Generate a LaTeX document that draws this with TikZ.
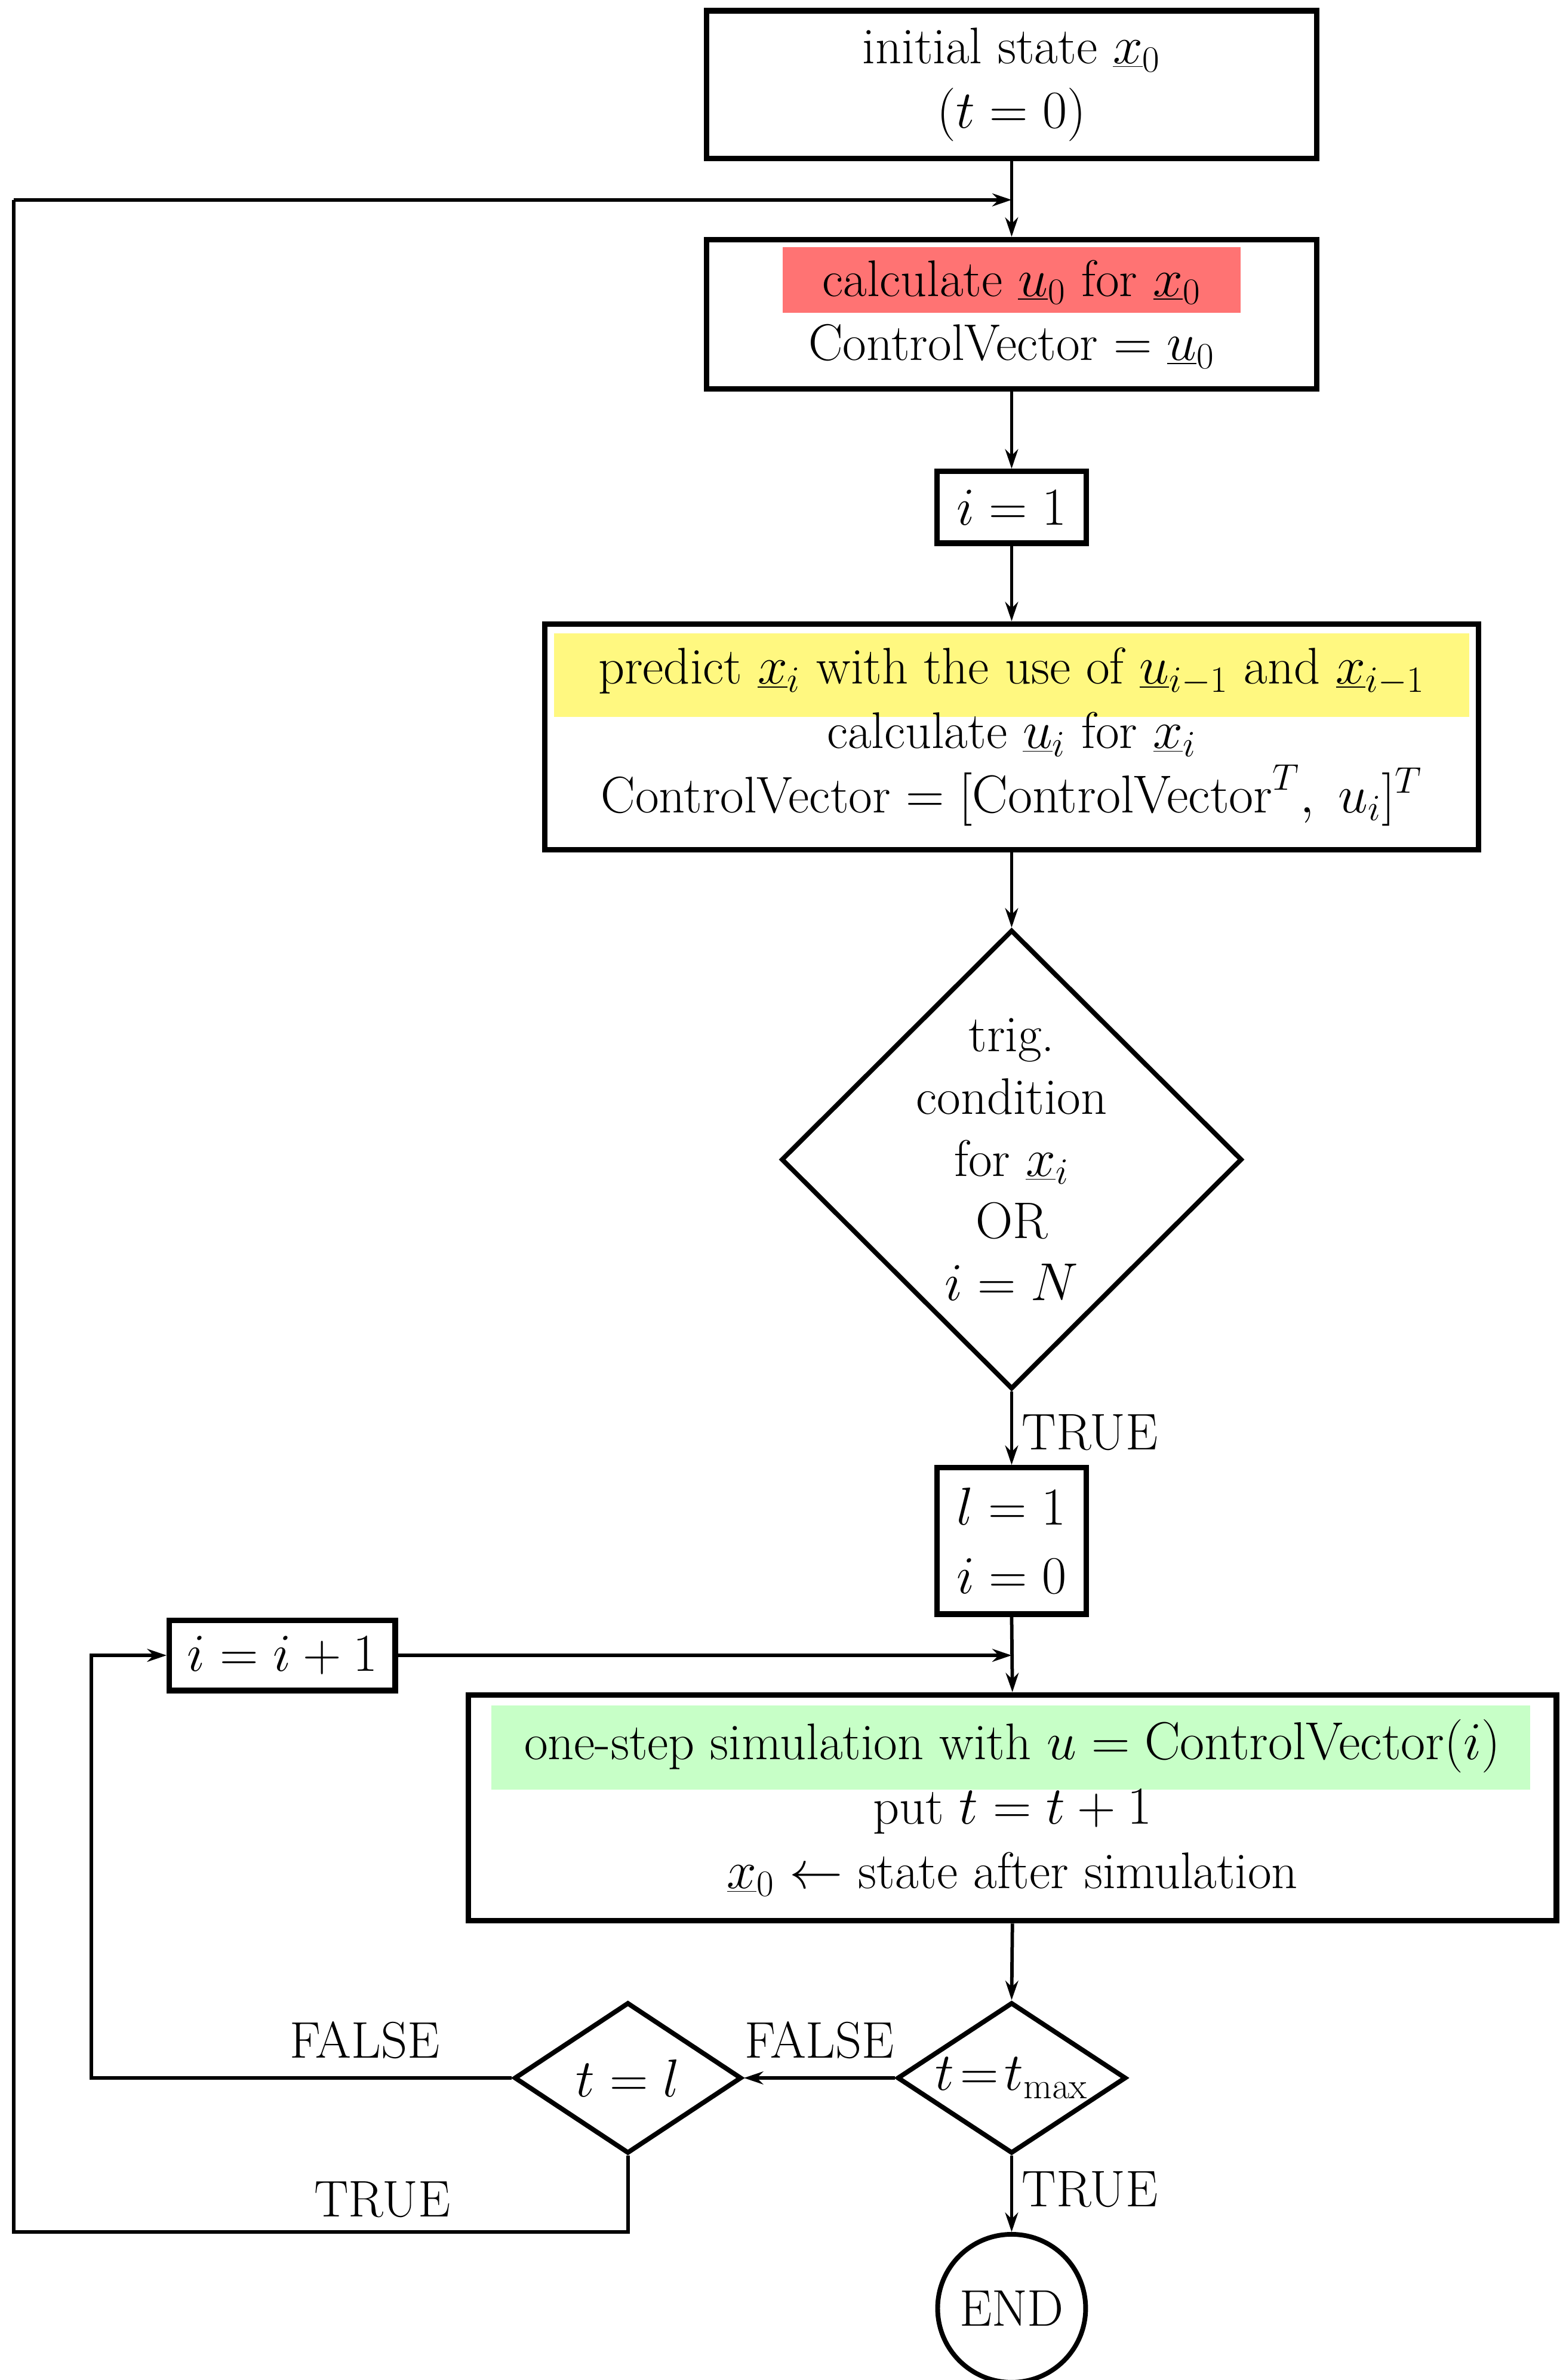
\documentclass[tikz,border=0pt]{standalone}
\usetikzlibrary{shapes.geometric,arrows.meta}
\begin{document}
\begin{tikzpicture}[x=0.025cm,y=-0.025cm,
  box/.style={draw,line width=2.6pt,inner sep=0pt,align=center,font=\fontsize{24}{30}\selectfont},
  dia/.style={draw,diamond,line width=2.2pt,inner sep=0pt},
  txt/.style={font=\fontsize{24}{30}\selectfont,align=center,inner sep=0pt},
  conn/.style={line width=1.6pt,-{Stealth[length=9pt,width=6pt]}},
  ln/.style={line width=1.6pt}]
\useasboundingbox (0,0) rectangle (1024,1560);
% highlights
\fill[red!55] (513,162) rectangle (813,205);
\fill[yellow!50] (363,415) rectangle (963,470);
\fill[green!22] (322,1118) rectangle (1003,1173);
% boxes
\node[box,minimum width=400*0.025cm,minimum height=97*0.025cm] (b1) at (663,55.5)
  {initial state $\underline{x}_0$\\$(t=0)$};
\node[box,minimum width=400*0.025cm,minimum height=98*0.025cm] (b2) at (663,206)
  {calculate $\underline{u}_0$ for $\underline{x}_0$\\ControlVector $=\underline{u}_0$};
\node[box,minimum width=98*0.025cm,minimum height=47*0.025cm] (b3) at (663,332.5) {$i=1$};
\node[box,minimum width=612*0.025cm,minimum height=148*0.025cm] (b4) at (663,483)
  {predict $\underline{x}_i$ with the use of $\underline{u}_{i-1}$ and $\underline{x}_{i-1}$\\
   calculate $\underline{u}_i$ for $\underline{x}_i$\\
   ControlVector $=[\mathrm{ControlVector}^T,\;u_i]^T$};
\node[dia,minimum width=302*0.025cm,minimum height=301*0.025cm] (d1) at (663,760) {};
\node[txt,font=\fontsize{24}{29}\selectfont] at (663,760)
  {trig.\\condition\\for $\underline{x}_i$\\OR\\$i=N$};
\node[box,minimum width=98*0.025cm,minimum height=96*0.025cm] (b5) at (663,1010)
  {$l=1$\\[2pt]$i=0$};
\node[box,minimum width=148*0.025cm,minimum height=46*0.025cm] (b6) at (185,1085) {$i=i+1$};
\node[box,minimum width=713*0.025cm,minimum height=148*0.025cm] (b7) at (663.5,1185)
  {one-step simulation with $u=\mathrm{ControlVector}(i)$\\
   put $t=t+1$\\
   $\underline{x}_0\leftarrow$ state after simulation};
\node[dia,minimum width=150*0.025cm,minimum height=99*0.025cm] (d2) at (663,1362) {};
\node[txt] at (663,1362) {$t\!=\!t_{\max}$};
\node[dia,minimum width=149*0.025cm,minimum height=99*0.025cm] (d3) at (411.5,1362) {};
\node[txt] at (411.5,1362) {$t=l$};
\node[draw,circle,line width=2.2pt,minimum size=97*0.025cm,inner sep=0pt,txt] (e) at (663,1513) {END};
% coordinates
\coordinate (j1) at (663,131);
\coordinate (j2) at (663,1085);
\coordinate (c1) at (60,1362);
\coordinate (c2) at (60,1085);
\coordinate (c3) at (411.5,1463);
\coordinate (c4) at (9,1463);
\coordinate (c5) at (9,131);
% connectors
\draw[conn] (b1.south) -- (b2.north);
\draw[conn] (b2.south) -- (b3.north);
\draw[conn] (b3.south) -- (b4.north);
\draw[conn] (b4.south) -- (d1.north);
\draw[conn] (d1.south) -- node[right,txt,xshift=4pt,yshift=-2pt]{TRUE} (b5.north);
\draw[conn] (b5.south) -- (b7.north);
\draw[conn] (b6.east) -- (j2);
\draw[conn] (b7.south) -- (d2.north);
\draw[conn] (d2.west) -- node[above,txt,yshift=8pt]{FALSE} (d3.east);
\draw[conn] (d2.south) -- node[right,txt,xshift=4pt,yshift=2pt]{TRUE} (e.north);
\draw[conn] (d3.west) -- node[above,txt,pos=0.35,yshift=8pt]{FALSE} (c1) -- (c2) -- (b6.west);
\draw[ln] (d3.south) -- (c3) -- node[above,txt,pos=0.4,yshift=6pt]{TRUE} (c4) -- (c5);
\draw[conn] (c5) -- (j1);
\end{tikzpicture}
\end{document}
